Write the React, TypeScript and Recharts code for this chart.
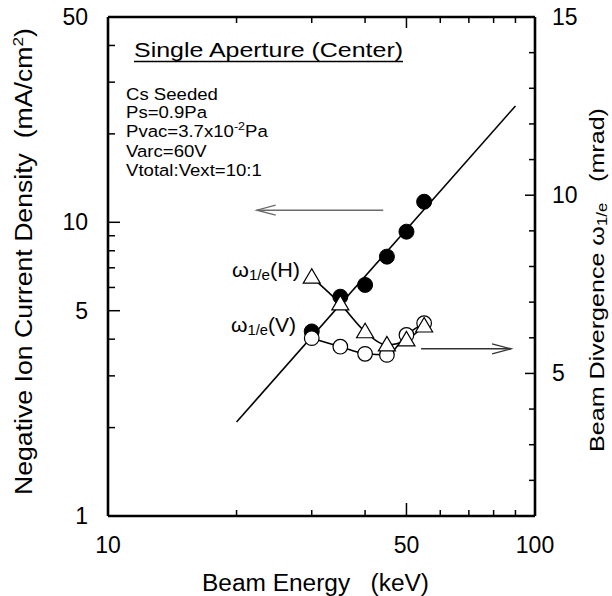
import React from "react";
import { ComposedChart, Line, XAxis, YAxis, ReferenceLine } from "recharts";

// ---- data ----
const energy = [30, 35, 40, 45, 50, 55];
const currentDensity = [4.25, 5.58, 6.12, 7.64, 9.29, 11.75];
const divergenceH = [7.7, 6.95, 6.17, 5.8, 5.94, 6.33];
const divergenceV = [5.99, 5.75, 5.55, 5.52, 6.08, 6.41];
const fitEnergy = [20, 90];
const fitCurrent = [2.09, 24.9];

const xTicks = [10, 20, 30, 40, 50, 60, 70, 80, 90, 100];
const xLabels = [10, 50, 100];
const leftTicks = [1, 2, 3, 4, 5, 6, 7, 8, 9, 10, 20, 30, 40, 50];
const leftLabels = [1, 5, 10, 50];
const rightTicks = [1, 2, 3, 4, 5, 6, 7, 8, 9, 10, 11, 12, 13, 14, 15];
const rightLabels = [5, 10, 15];

// arrows in data units: [x1, x2, y]
const leftArrow = [44.1, 22.3, 11.0];
const rightArrow = [54.1, 87.9, 5.69];

const toRows = (xs: number[], ys: number[]) => xs.map((x, i) => ({ x, y: ys[i] }));
const currentRows = toRows(energy, currentDensity);
const hRows = toRows(energy, divergenceH);
const vRows = toRows(energy, divergenceV);
const fitRows = toRows(fitEnergy, fitCurrent);

const FONT = "'Liberation Sans', Arial, Helvetica, sans-serif";
const TICK_FS = 23;
const PRE: React.CSSProperties = { whiteSpace: "pre" };

const BottomTick = (p: any) => {
  const v = p.payload.value;
  const major = xLabels.includes(v);
  const edge = v === 10 || v === 100;
  return (
    <g>
      {!edge && <line x1={p.x} x2={p.x} y1={p.y} y2={p.y - (major ? 13 : 6)} stroke="#000" strokeWidth={1.5} />}
      {major && (
        <text x={p.x} y={p.y + 29} dy="0.35em" textAnchor="middle" fontSize={TICK_FS} fontFamily={FONT} fill="#000">
          {v}
        </text>
      )}
    </g>
  );
};

const TopTick = (p: any) => {
  const v = p.payload.value;
  const major = xLabels.includes(v);
  const edge = v === 10 || v === 100;
  if (edge) return <g />;
  return <line x1={p.x} x2={p.x} y1={p.y} y2={p.y + (major ? 11 : 6)} stroke="#000" strokeWidth={1.5} />;
};

const LeftTick = (p: any) => {
  const v = p.payload.value;
  const major = leftLabels.includes(v);
  const edge = v === 1 || v === 50;
  return (
    <g>
      {!edge && <line x1={p.x} x2={p.x + (major ? 12 : 7)} y1={p.y} y2={p.y} stroke="#000" strokeWidth={1.5} />}
      {major && (
        <text x={p.x - 20} y={p.y} dy="0.35em" textAnchor="end" fontSize={TICK_FS} fontFamily={FONT} fill="#000">
          {v}
        </text>
      )}
    </g>
  );
};

const RightTick = (p: any) => {
  const v = p.payload.value;
  const major = rightLabels.includes(v);
  const edge = v === 1 || v === 15;
  return (
    <g>
      {!edge && <line x1={p.x} x2={p.x - (major ? 10 : 6)} y1={p.y} y2={p.y} stroke="#000" strokeWidth={1.5} />}
      {major && (
        <text x={p.x + 17} y={p.y} dy="0.35em" textAnchor="start" fontSize={TICK_FS} fontFamily={FONT} fill="#000">
          {v}
        </text>
      )}
    </g>
  );
};

const FilledDot = (p: any) => <circle key={`f${p.index}`} cx={p.cx} cy={p.cy} r={7.5} fill="#000" stroke="#000" />;
const OpenDot = (p: any) => <circle key={`o${p.index}`} cx={p.cx} cy={p.cy} r={7.3} fill="#fff" stroke="#000" strokeWidth={1.2} />;
const TriDot = (p: any) => {
  const { cx, cy } = p;
  const pts = `${cx},${cy - 8.5} ${cx - 8.5},${cy + 6} ${cx + 8.5},${cy + 6}`;
  return <polygon key={`t${p.index}`} points={pts} fill="#fff" stroke="#000" strokeWidth={1.2} />;
};

const arrowShape = (color: string) => (p: any) => {
  const { x1, y1, x2, y2 } = p;
  const dir = x2 > x1 ? 1 : -1;
  return (
    <g>
      <line x1={x1} y1={y1} x2={x2} y2={y2} stroke={color} strokeWidth={1.5} />
      <polyline
        points={`${x2 - dir * 19},${y2 - 5} ${x2},${y2} ${x2 - dir * 19},${y2 + 5}`}
        fill="none"
        stroke={color}
        strokeWidth={1.3}
      />
    </g>
  );
};

const axisLine = { stroke: "#000", strokeWidth: 2.6 };

export default function App() {
  return (
    <div style={{ position: "absolute", left: 0, top: 0, width: 612, height: 596, background: "#fff" }}>
      <ComposedChart width={612} height={596} margin={{ top: 0, right: 0, bottom: 0, left: 0 }}>
        <XAxis
          xAxisId="b"
          dataKey="x"
          type="number"
          scale="log"
          domain={[10, 100]}
          allowDataOverflow
          ticks={xTicks}
          interval={0}
          tickSize={0}
          tickMargin={0}
          tickLine={false}
          tick={BottomTick}
          axisLine={axisLine}
          height={80}
          orientation="bottom"
        />
        <XAxis
          xAxisId="t"
          dataKey="x"
          type="number"
          scale="log"
          domain={[10, 100]}
          allowDataOverflow
          ticks={xTicks}
          interval={0}
          tickSize={0}
          tickMargin={0}
          tickLine={false}
          tick={TopTick}
          axisLine={axisLine}
          height={17}
          orientation="top"
        />
        <YAxis
          yAxisId="l"
          type="number"
          scale="log"
          domain={[1, 50]}
          allowDataOverflow
          ticks={leftTicks}
          interval={0}
          tickSize={0}
          tickMargin={0}
          tickLine={false}
          tick={LeftTick}
          axisLine={axisLine}
          width={108}
          orientation="left"
        />
        <YAxis
          yAxisId="r"
          type="number"
          domain={[1, 15]}
          allowDataOverflow
          ticks={rightTicks}
          interval={0}
          tickSize={0}
          tickMargin={0}
          tickLine={false}
          tick={RightTick}
          axisLine={axisLine}
          width={77}
          orientation="right"
        />
        <ReferenceLine
          xAxisId="b"
          yAxisId="l"
          segment={[{ x: leftArrow[0], y: leftArrow[2] }, { x: leftArrow[1], y: leftArrow[2] }]}
          shape={arrowShape("#6a6a6a")}
        />
        <ReferenceLine
          xAxisId="b"
          yAxisId="r"
          segment={[{ x: rightArrow[0], y: rightArrow[2] }, { x: rightArrow[1], y: rightArrow[2] }]}
          shape={arrowShape("#333")}
        />
        <Line
          xAxisId="b"
          yAxisId="l"
          data={fitRows}
          dataKey="y"
          type="linear"
          stroke="#000"
          strokeWidth={1.6}
          dot={false}
          isAnimationActive={false}
        />
        <Line
          xAxisId="b"
          yAxisId="l"
          data={currentRows}
          dataKey="y"
          stroke="none"
          dot={FilledDot}
          isAnimationActive={false}
        />
        <Line
          xAxisId="b"
          yAxisId="r"
          data={vRows}
          dataKey="y"
          type="monotone"
          stroke="#000"
          strokeWidth={1.6}
          dot={OpenDot}
          isAnimationActive={false}
        />
        <Line
          xAxisId="b"
          yAxisId="r"
          data={hRows}
          dataKey="y"
          type="monotone"
          stroke="#000"
          strokeWidth={1.6}
          dot={TriDot}
          isAnimationActive={false}
        />
      </ComposedChart>
      <svg
        width={612}
        height={596}
        style={{ position: "absolute", left: 0, top: 0, pointerEvents: "none" }}
        fontFamily={FONT}
        fill="#000"
      >
        <text x={134} y={56.5} fontSize={20} textLength={269} lengthAdjust="spacingAndGlyphs">
          Single Aperture (Center)
        </text>
        <line x1={134} x2={403} y1={61.5} y2={61.5} stroke="#000" strokeWidth={1.4} />
        <g transform="translate(126,0) scale(1.14,1)" fontSize={16.3}>
          <text x={0} y={100}>Cs Seeded</text>
          <text x={0} y={118.5}>Ps=0.9Pa</text>
          <text x={0} y={137.5}>
            Pvac=3.7x10
            <tspan fontSize={11} dy={-7}>-2</tspan>
            <tspan dy={7}>Pa</tspan>
          </text>
          <text x={0} y={157}>Varc=60V</text>
          <text x={0} y={176}>Vtotal:Vext=10:1</text>
        </g>
        <text x={232} y={277} fontSize={20} textLength={68} lengthAdjust="spacingAndGlyphs">
          ω<tspan fontSize={14} dy={3}>1/e</tspan>
          <tspan dy={-3}>(H)</tspan>
        </text>
        <text x={231} y={332} fontSize={20} textLength={65} lengthAdjust="spacingAndGlyphs">
          ω<tspan fontSize={14} dy={3}>1/e</tspan>
          <tspan dy={-3}>(V)</tspan>
        </text>
        <text x={202} y={591} fontSize={23} textLength={227} lengthAdjust="spacingAndGlyphs" style={PRE} xmlSpace="preserve">
          {"Beam Energy   (keV)"}
        </text>
        <text
          transform="translate(32,495) rotate(-90)"
          x={0}
          y={0}
          fontSize={23}
          textLength={467}
          lengthAdjust="spacingAndGlyphs"
          style={PRE}
          xmlSpace="preserve"
        >
          {"Negative Ion Current Density  (mA/cm"}
          <tspan fontSize={15} dy={-9}>2</tspan>
          <tspan dy={9}>)</tspan>
        </text>
        <text
          transform="translate(604,452) rotate(-90)"
          x={0}
          y={0}
          fontSize={21}
          textLength={344}
          lengthAdjust="spacingAndGlyphs"
          style={PRE}
          xmlSpace="preserve"
        >
          {"Beam Divergence ω"}
          <tspan fontSize={14} dy={3}>1/e</tspan>
          <tspan dy={-3}>{"   (mrad)"}</tspan>
        </text>
      </svg>
    </div>
  );
}
